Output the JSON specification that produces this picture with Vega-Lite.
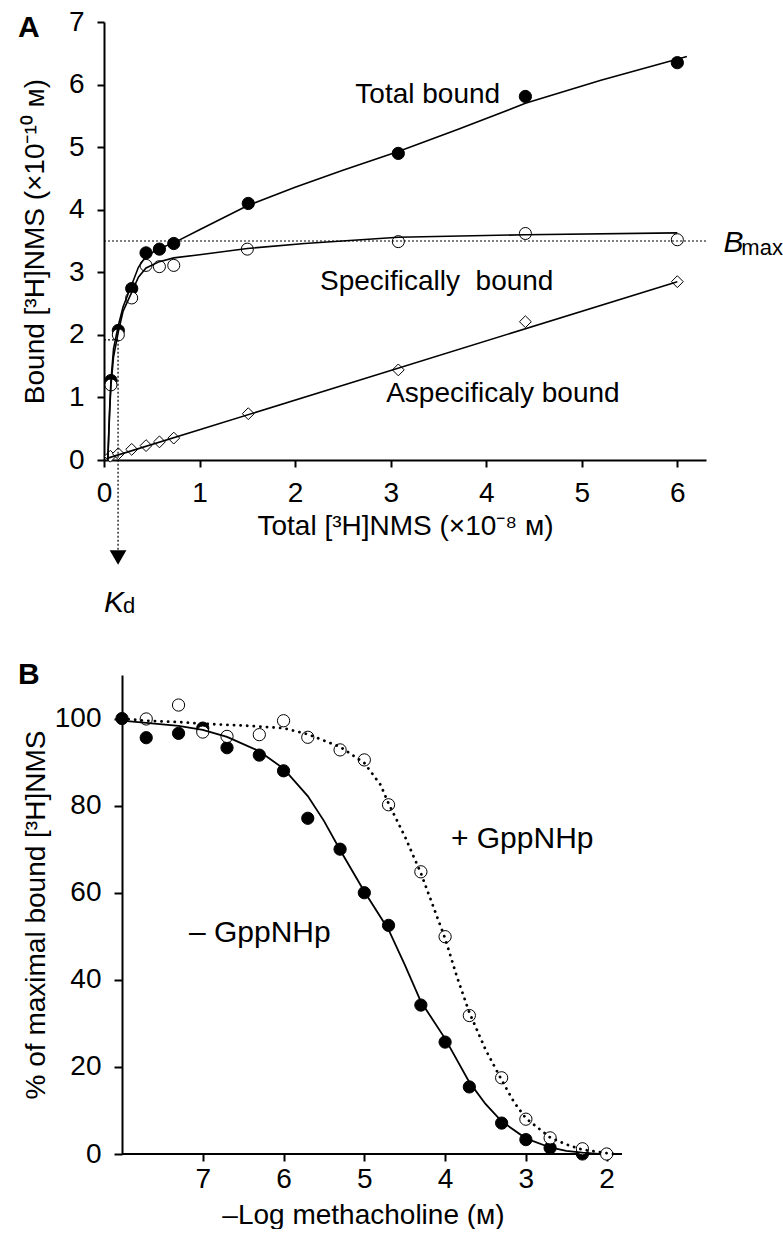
{
  "$schema": "https://vega.github.io/schema/vega-lite/v6.json",
  "background": "white",
  "padding": {"left": 17, "top": 8, "right": 0, "bottom": 0},
  "spacing": 40,
  "config": {
    "view": {"stroke": null},
    "font": "Liberation Sans",
    "axis": {
      "grid": false, "domainColor": "black", "domainWidth": 2, "tickColor": "black", "tickWidth": 2, "tickSize": 7,
      "labelColor": "black", "labelFont": "Liberation Sans", "labelFontSize": 28, "labelFlush": false, "labelOverlap": false,
      "titleFont": "Liberation Sans", "titleFontSize": 28, "titleFontWeight": "normal", "titleColor": "black"
    },
    "text": {"font": "Liberation Sans", "color": "black"}
  },
  "datasets": {
    "aPts": [
      {"x": 0.073, "y": 1.27, "s": "total"}, {"x": 0.15, "y": 2.07, "s": "total"}, {"x": 0.29, "y": 2.74, "s": "total"},
      {"x": 0.44, "y": 3.31, "s": "total"}, {"x": 0.58, "y": 3.37, "s": "total"}, {"x": 0.73, "y": 3.46, "s": "total"},
      {"x": 1.51, "y": 4.10, "s": "total"}, {"x": 3.08, "y": 4.90, "s": "total"}, {"x": 4.41, "y": 5.81, "s": "total"},
      {"x": 6.0, "y": 6.35, "s": "total"},
      {"x": 0.073, "y": 1.20, "s": "specific"}, {"x": 0.15, "y": 2.00, "s": "specific"}, {"x": 0.29, "y": 2.59, "s": "specific"},
      {"x": 0.44, "y": 3.11, "s": "specific"}, {"x": 0.58, "y": 3.09, "s": "specific"}, {"x": 0.73, "y": 3.11, "s": "specific"},
      {"x": 1.50, "y": 3.37, "s": "specific"}, {"x": 3.08, "y": 3.49, "s": "specific"}, {"x": 4.41, "y": 3.62, "s": "specific"},
      {"x": 6.0, "y": 3.52, "s": "specific"},
      {"x": 0.066, "y": 0.06, "s": "aspecific"}, {"x": 0.15, "y": 0.10, "s": "aspecific"}, {"x": 0.29, "y": 0.17, "s": "aspecific"},
      {"x": 0.44, "y": 0.23, "s": "aspecific"}, {"x": 0.58, "y": 0.29, "s": "aspecific"}, {"x": 0.73, "y": 0.35, "s": "aspecific"},
      {"x": 1.51, "y": 0.74, "s": "aspecific"}, {"x": 3.08, "y": 1.44, "s": "aspecific"}, {"x": 4.41, "y": 2.21, "s": "aspecific"},
      {"x": 6.0, "y": 2.85, "s": "aspecific"}
    ],
    "aCurves": [
      {"x": 0.04, "y": 0, "c": "total"}, {"x": 0.05, "y": 0.45, "c": "total"}, {"x": 0.06, "y": 0.85, "c": "total"},
      {"x": 0.073, "y": 1.27, "c": "total"}, {"x": 0.1, "y": 1.78, "c": "total"}, {"x": 0.15, "y": 2.15, "c": "total"},
      {"x": 0.2, "y": 2.45, "c": "total"}, {"x": 0.29, "y": 2.8, "c": "total"}, {"x": 0.36, "y": 3.08, "c": "total"},
      {"x": 0.44, "y": 3.26, "c": "total"}, {"x": 0.58, "y": 3.38, "c": "total"}, {"x": 0.73, "y": 3.47, "c": "total"},
      {"x": 1.0, "y": 3.68, "c": "total"}, {"x": 1.51, "y": 4.07, "c": "total"}, {"x": 2.0, "y": 4.36, "c": "total"},
      {"x": 2.5, "y": 4.63, "c": "total"}, {"x": 3.08, "y": 4.93, "c": "total"}, {"x": 3.7, "y": 5.28, "c": "total"},
      {"x": 4.41, "y": 5.70, "c": "total"}, {"x": 5.2, "y": 6.07, "c": "total"}, {"x": 6.1, "y": 6.45, "c": "total"},
      {"x": 0.04, "y": 0, "c": "specific"}, {"x": 0.05, "y": 0.4, "c": "specific"}, {"x": 0.06, "y": 0.8, "c": "specific"},
      {"x": 0.073, "y": 1.2, "c": "specific"}, {"x": 0.1, "y": 1.65, "c": "specific"}, {"x": 0.15, "y": 2.05, "c": "specific"},
      {"x": 0.2, "y": 2.38, "c": "specific"}, {"x": 0.29, "y": 2.68, "c": "specific"}, {"x": 0.36, "y": 2.92, "c": "specific"},
      {"x": 0.44, "y": 3.07, "c": "specific"}, {"x": 0.58, "y": 3.17, "c": "specific"}, {"x": 0.73, "y": 3.23, "c": "specific"},
      {"x": 1.0, "y": 3.28, "c": "specific"}, {"x": 1.5, "y": 3.38, "c": "specific"}, {"x": 2.1, "y": 3.46, "c": "specific"},
      {"x": 3.08, "y": 3.56, "c": "specific"}, {"x": 4.41, "y": 3.6, "c": "specific"}, {"x": 6.0, "y": 3.63, "c": "specific"},
      {"x": 0.04, "y": 0.03, "c": "aspecific"}, {"x": 6.0, "y": 2.85, "c": "aspecific"}
    ],
    "aRules": [
      {"x": 0, "x2": 6.3, "y": 3.5, "y2": 3.5},
      {"x": 0, "x2": 0.147, "y": 1.92, "y2": 1.92},
      {"x": 0.147, "x2": 0.147, "y": 1.92, "y2": -1.44}
    ],
    "aArrow": [{"x": 0.147, "y": -1.56}],
    "aText": [
      {"x": 2.63, "y": 5.70, "t": "Total bound", "fs": 28},
      {"x": 2.26, "y": 2.72, "t": "Specifically\u00a0 bound", "fs": 28},
      {"x": 2.953, "y": 0.933, "t": "Aspecificaly bound", "fs": 28},
      {"x": 6.67, "y": 3.28, "t": "max", "fs": 22},
      {"x": 0.199, "y": -2.448, "t": "d", "fs": 22}
    ],
    "aItalic": [
      {"x": 6.482, "y": 3.328, "t": "B"},
      {"x": 0.0, "y": -2.432, "t": "K"}
    ],
    "aBold": [{"x": -0.901, "y": 6.768, "t": "A"}],
    "bPts": [
      {"x": 8.0, "y": 100, "s": "minus"}, {"x": 7.7, "y": 95.6, "s": "minus"}, {"x": 7.3, "y": 96.6, "s": "minus"},
      {"x": 7.0, "y": 97.8, "s": "minus"}, {"x": 6.7, "y": 93.3, "s": "minus"}, {"x": 6.3, "y": 91.6, "s": "minus"},
      {"x": 6.0, "y": 88.0, "s": "minus"}, {"x": 5.7, "y": 77.1, "s": "minus"}, {"x": 5.3, "y": 70.0, "s": "minus"},
      {"x": 5.0, "y": 60.0, "s": "minus"}, {"x": 4.7, "y": 52.5, "s": "minus"}, {"x": 4.3, "y": 34.2, "s": "minus"},
      {"x": 4.0, "y": 25.7, "s": "minus"}, {"x": 3.7, "y": 15.4, "s": "minus"}, {"x": 3.3, "y": 7.1, "s": "minus"},
      {"x": 3.0, "y": 3.3, "s": "minus"}, {"x": 2.7, "y": 1.4, "s": "minus"}, {"x": 2.3, "y": 0, "s": "minus"},
      {"x": 7.7, "y": 99.9, "s": "plus"}, {"x": 7.3, "y": 103.1, "s": "plus"}, {"x": 7.0, "y": 96.9, "s": "plus"},
      {"x": 6.7, "y": 95.9, "s": "plus"}, {"x": 6.3, "y": 96.3, "s": "plus"}, {"x": 6.0, "y": 99.5, "s": "plus"},
      {"x": 5.7, "y": 95.7, "s": "plus"}, {"x": 5.3, "y": 92.8, "s": "plus"}, {"x": 5.0, "y": 90.5, "s": "plus"},
      {"x": 4.7, "y": 80.2, "s": "plus"}, {"x": 4.3, "y": 64.8, "s": "plus"}, {"x": 4.0, "y": 49.9, "s": "plus"},
      {"x": 3.7, "y": 31.8, "s": "plus"}, {"x": 3.3, "y": 17.5, "s": "plus"}, {"x": 3.0, "y": 8.0, "s": "plus"},
      {"x": 2.7, "y": 3.7, "s": "plus"}, {"x": 2.3, "y": 1.2, "s": "plus"}, {"x": 2.0, "y": 0, "s": "plus"}
    ],
    "bSolid": [
      {"x": 8.0, "y": 99.5}, {"x": 7.7, "y": 99.0}, {"x": 7.3, "y": 98.3}, {"x": 7.0, "y": 97.4}, {"x": 6.7, "y": 95.8},
      {"x": 6.3, "y": 92.5}, {"x": 6.0, "y": 88.5}, {"x": 5.7, "y": 82.2}, {"x": 5.5, "y": 76.5}, {"x": 5.3, "y": 69.8},
      {"x": 5.0, "y": 60.3}, {"x": 4.7, "y": 51.5}, {"x": 4.5, "y": 43.5}, {"x": 4.3, "y": 35.0}, {"x": 4.0, "y": 26.5},
      {"x": 3.7, "y": 16.5}, {"x": 3.5, "y": 11.5}, {"x": 3.3, "y": 7.5}, {"x": 3.0, "y": 3.6}, {"x": 2.7, "y": 1.5},
      {"x": 2.5, "y": 0.7}, {"x": 2.3, "y": 0.3}, {"x": 2.1, "y": 0.05}
    ],
    "bDotted": [
      {"x": 8.0, "y": 100}, {"x": 7.7, "y": 99.5}, {"x": 7.3, "y": 99.2}, {"x": 7.0, "y": 98.8}, {"x": 6.5, "y": 98.4},
      {"x": 6.0, "y": 97.8}, {"x": 5.7, "y": 96.4}, {"x": 5.3, "y": 93.5}, {"x": 5.0, "y": 89.8}, {"x": 4.8, "y": 84.8},
      {"x": 4.7, "y": 80.5}, {"x": 4.5, "y": 73.0}, {"x": 4.3, "y": 64.5}, {"x": 4.15, "y": 57.0}, {"x": 4.0, "y": 49.5},
      {"x": 3.85, "y": 40.5}, {"x": 3.7, "y": 32.5}, {"x": 3.5, "y": 24.0}, {"x": 3.3, "y": 17.0}, {"x": 3.15, "y": 12.0},
      {"x": 3.0, "y": 8.2}, {"x": 2.7, "y": 3.8}, {"x": 2.5, "y": 2.2}, {"x": 2.3, "y": 1.0}, {"x": 2.0, "y": 0.2},
      {"x": 1.9, "y": 0}
    ],
    "bAxisLine": [{"x": 8.0, "x2": 1.81, "y": 0}],
    "bText": [
      {"x": 3.928, "y": 70.2, "t": "+ GppNHp"},
      {"x": 7.171, "y": 48.7, "t": "– GppNHp"}
    ],
    "bBold": [{"x": 9.287, "y": 108.0, "t": "B"}]
  },
  "vconcat": [
    {
      "width": 602,
      "height": 438,
      "encoding": {
        "x": {
          "field": "x", "type": "quantitative",
          "scale": {"domain": [0, 6.3], "nice": false, "zero": false},
          "axis": {"values": [0, 1, 2, 3, 4, 5, 6], "labelPadding": 12, "titlePadding": 5, "title": "Total [³H]NMS (×10⁻⁸ ᴍ)"}
        },
        "y": {
          "field": "y", "type": "quantitative",
          "scale": {"domain": [0, 7], "nice": false, "zero": false},
          "axis": {"values": [0, 1, 2, 3, 4, 5, 6, 7], "labelPadding": 13, "titleX": -61, "titleBaseline": "alphabetic", "title": "Bound [³H]NMS (×10⁻¹⁰ ᴍ)"}
        }
      },
      "layer": [
        {
          "data": {"name": "aPts"},
          "mark": {"type": "point", "filled": true, "stroke": "black", "strokeWidth": 1, "opacity": 1},
          "encoding": {
            "shape": {"field": "s", "type": "nominal", "scale": {"domain": ["total", "specific", "aspecific"], "range": ["circle", "circle", "diamond"]}, "legend": null},
            "fill": {"field": "s", "type": "nominal", "scale": {"domain": ["total", "specific", "aspecific"], "range": ["black", "white", "white"]}, "legend": null},
            "size": {"field": "s", "type": "nominal", "scale": {"domain": ["total", "specific", "aspecific"], "range": [150, 140, 110]}, "legend": null}
          }
        },
        {
          "data": {"name": "aCurves"},
          "mark": {"type": "line", "color": "black"},
          "encoding": {
            "detail": {"field": "c", "type": "nominal"},
            "strokeWidth": {"field": "c", "type": "nominal", "scale": {"domain": ["total", "specific", "aspecific"], "range": [1.6, 1.6, 1.0]}, "legend": null}
          }
        },
        {
          "data": {"name": "aRules"},
          "mark": {"type": "rule", "color": "black", "strokeWidth": 1.2, "strokeDash": [2, 2]},
          "encoding": {"x2": {"field": "x2"}, "y2": {"field": "y2"}}
        },
        {
          "data": {"name": "aArrow"},
          "mark": {"type": "point", "shape": "triangle-down", "filled": true, "color": "black", "size": 280, "opacity": 1}
        },
        {
          "data": {"name": "aText"},
          "mark": {"type": "text", "align": "left", "baseline": "alphabetic", "font": "Liberation Sans"},
          "encoding": {"text": {"field": "t"}, "size": {"field": "fs", "type": "quantitative", "scale": null}}
        },
        {
          "data": {"name": "aItalic"},
          "mark": {"type": "text", "align": "left", "baseline": "alphabetic", "fontStyle": "italic", "fontSize": 30, "font": "Liberation Sans"},
          "encoding": {"text": {"field": "t"}}
        },
        {
          "data": {"name": "aBold"},
          "mark": {"type": "text", "align": "left", "baseline": "alphabetic", "fontWeight": "bold", "fontSize": 30, "font": "Liberation Sans"},
          "encoding": {"text": {"field": "t"}}
        }
      ]
    },
    {
      "width": 518,
      "height": 479,
      "encoding": {
        "x": {
          "field": "x", "type": "quantitative",
          "scale": {"domain": [1.81, 8.2228], "reverse": true, "nice": false, "zero": false},
          "axis": {"values": [2, 3, 4, 5, 6, 7], "domain": false, "labelPadding": 4, "titlePadding": 8, "title": "–Log methacholine (ᴍ)"}
        },
        "y": {
          "field": "y", "type": "quantitative",
          "scale": {"domain": [0, 110], "nice": false, "zero": false},
          "axis": {"values": [0, 20, 40, 60, 80, 100], "offset": -18, "labelPadding": 13, "tickSize": 8, "titleX": -78, "titleBaseline": "alphabetic", "title": "% of maximal bound [³H]NMS"}
        }
      },
      "layer": [
        {
          "data": {"name": "bAxisLine"},
          "mark": {"type": "rule", "color": "black", "strokeWidth": 2},
          "encoding": {"x2": {"field": "x2"}}
        },
        {
          "data": {"name": "bPts"},
          "mark": {"type": "point", "filled": true, "stroke": "black", "strokeWidth": 1, "opacity": 1, "size": 150},
          "encoding": {
            "fill": {"field": "s", "type": "nominal", "scale": {"domain": ["minus", "plus"], "range": ["black", "white"]}, "legend": null}
          }
        },
        {
          "data": {"name": "bSolid"},
          "mark": {"type": "line", "color": "black", "strokeWidth": 1.8}
        },
        {
          "data": {"name": "bDotted"},
          "mark": {"type": "line", "color": "black", "strokeWidth": 2.8, "strokeDash": [0.1, 6.5], "strokeCap": "round"}
        },
        {
          "data": {"name": "bText"},
          "mark": {"type": "text", "align": "left", "baseline": "alphabetic", "fontSize": 30, "font": "Liberation Sans"},
          "encoding": {"text": {"field": "t"}}
        },
        {
          "data": {"name": "bBold"},
          "mark": {"type": "text", "align": "left", "baseline": "alphabetic", "fontWeight": "bold", "fontSize": 30, "font": "Liberation Sans"},
          "encoding": {"text": {"field": "t"}}
        }
      ]
    }
  ]
}
